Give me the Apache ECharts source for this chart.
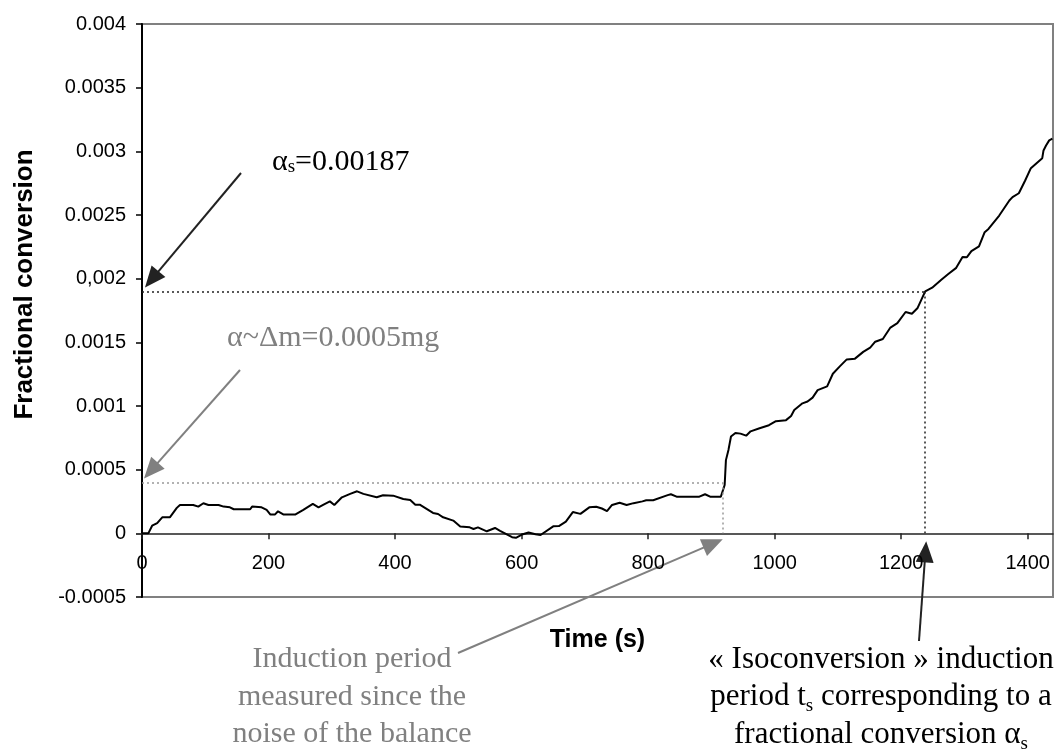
<!DOCTYPE html>
<html>
<head>
<meta charset="utf-8">
<script src="https://cdn.jsdelivr.net/npm/echarts@6/dist/echarts.min.js"></script>
<style>
  html, body { margin: 0; padding: 0; background: #fff; }
  #chart { width: 1064px; height: 751px; }
</style>
</head>
<body>
<div id="chart"></div>
<script>
// time (s) and fractional conversion
const timeS = [
  0, 10, 16, 24, 32, 44, 55, 60, 81, 89, 97, 105, 121, 129, 139, 145, 171, 174, 189, 197,
  203, 210, 215, 224, 242, 255, 270, 279, 287, 297, 304, 316, 329, 340, 350, 371, 381, 397, 413, 424,
  432, 439, 460, 468, 476, 492, 503, 518, 524, 531, 545, 558, 566, 585, 591, 602, 611, 622, 630, 650,
  659, 670, 681, 693, 707, 718, 727, 735, 743, 755, 766, 777, 791, 797, 808, 831, 836, 845, 881, 890,
  898, 915, 918, 921, 923, 927, 931, 938, 946, 955, 962, 975, 991, 1002, 1018, 1026, 1031, 1044, 1052, 1060,
  1068, 1083, 1092, 1103, 1114, 1127, 1140, 1151, 1159, 1171, 1183, 1194, 1207, 1217, 1226, 1238, 1249, 1263, 1274, 1287,
  1297, 1304, 1311, 1323, 1332, 1338, 1355, 1371, 1376, 1386, 1396, 1405, 1414, 1423, 1425, 1429, 1434, 1439
];
const fracConv = [
  0, 0, 0.00006, 0.00008, 0.000126, 0.000126, 0.0002, 0.000223, 0.000223, 0.00021, 0.000236, 0.000223, 0.000223, 0.00021, 0.000204, 0.000189, 0.000189, 0.00021, 0.000204, 0.000184,
  0.000147, 0.000147, 0.000173, 0.000147, 0.000147, 0.000184, 0.000231, 0.000204, 0.000225, 0.000251, 0.000223, 0.000283, 0.00031, 0.00033, 0.00031, 0.000283, 0.000299, 0.000296, 0.00027, 0.000262,
  0.000225, 0.000225, 0.00016, 0.000152, 0.000126, 0.0001, 0.000053, 0.000047, 0.000034, 0.000047, 0.000016, 0.000042, 0.00002, -0.00003, -0.000035, -0.000007, 0.000007, -0.000007, -0.000013, 0.000055,
  0.000057, 0.000092, 0.000167, 0.000153, 0.000204, 0.000209, 0.000195, 0.000175, 0.000223, 0.00024, 0.000223, 0.000237, 0.000251, 0.00026, 0.00026, 0.0003, 0.000307, 0.000288, 0.000288, 0.000307,
  0.000288, 0.000288, 0.000295, 0.00038, 0.000575, 0.000655, 0.00076, 0.000788, 0.000783, 0.000767, 0.000801, 0.000823, 0.000849, 0.000881, 0.000889, 0.000921, 0.000968, 0.001021, 0.001035, 0.001066,
  0.001125, 0.001154, 0.001253, 0.001311, 0.001366, 0.001372, 0.001425, 0.001459, 0.001505, 0.001526, 0.001616, 0.001651, 0.001738, 0.001725, 0.00177, 0.0019, 0.001929, 0.00199, 0.002035, 0.002085,
  0.00217, 0.002169, 0.002216, 0.002253, 0.002365, 0.002391, 0.002496, 0.002614, 0.00264, 0.002671, 0.002771, 0.002868, 0.002907, 0.002946, 0.003007, 0.003046, 0.003086, 0.003099
];

// y tick labels as printed (note the comma one)
const yTickLabels = ['-0.0005', '0', '0.0005', '0.001', '0.0015', '0,002', '0.0025', '0.003', '0.0035', '0.004'];

// reference levels for the dotted guide lines
const alphaLevel = 0.0019;
const tIso = 1238;
const noiseLevel = 0.0004;
const tNoise = 918;

const chart = echarts.init(document.getElementById('chart'));

const dotBlack = { color: '#222', type: [2, 3], width: 1.5 };
const dotGray = { color: '#999', type: [2, 3], width: 1.5 };

const option = {
  animation: false,
  backgroundColor: '#fff',
  grid: {
    left: 142, right: 11, top: 24, bottom: 154,
    show: true, borderColor: '#808080', borderWidth: 2,
    outerBoundsMode: 'none'
  },
  xAxis: {
    type: 'value',
    min: 0, max: 1440, interval: 200,
    name: 'Time (s)',
    nameLocation: 'middle',
    nameGap: 94,
    nameTextStyle: { fontFamily: 'Liberation Sans', fontWeight: 'bold', fontSize: 25, color: '#000' },
    axisLine: { onZero: false, lineStyle: { color: '#222', width: 1.5 } },
    axisTick: { length: 6, lineStyle: { color: '#222', width: 1.5 } },
    axisLabel: {
      margin: 20, fontSize: 20, fontFamily: 'Liberation Sans', color: '#000', showMaxLabel: false,
      formatter: v => String(v)
    },
    splitLine: { show: false }
  },
  yAxis: {
    type: 'value',
    min: -0.0005, max: 0.004, interval: 0.0005,
    name: 'Fractional conversion',
    nameLocation: 'middle',
    nameRotate: 90,
    nameGap: 104,
    nameTextStyle: { fontFamily: 'Liberation Sans', fontWeight: 'bold', fontSize: 26, color: '#000', padding: [0, 0, 0, 52] },
    axisLine: { show: true, onZero: false, lineStyle: { color: '#000', width: 2 } },
    axisTick: { show: true, length: 6, lineStyle: { color: '#000', width: 1.5 } },
    axisLabel: {
      margin: 16, fontSize: 20, fontFamily: 'Liberation Sans', color: '#000',
      formatter: v => yTickLabels[Math.round(v / 0.0005) + 1]
    },
    splitLine: { show: false }
  },
  series: [{
    type: 'line',
    data: timeS.map((t, i) => [t, fracConv[i]]),
    symbol: 'none',
    lineStyle: { color: '#000', width: 2 },
    markLine: {
      silent: true,
      symbol: ['none', 'none'],
      label: { show: false },
      emphasis: { disabled: true },
      data: [
        [{ coord: [0, alphaLevel], lineStyle: dotBlack }, { coord: [tIso, alphaLevel], lineStyle: dotBlack }],
        [{ coord: [tIso, alphaLevel], lineStyle: dotBlack }, { coord: [tIso, 0], lineStyle: dotBlack }],
        [{ coord: [0, noiseLevel], lineStyle: dotGray }, { coord: [tNoise, noiseLevel], lineStyle: dotGray }],
        [{ coord: [tNoise, noiseLevel], lineStyle: dotGray }, { coord: [tNoise, 0], lineStyle: dotGray }]
      ]
    }
  }]
};

chart.setOption(option);

const px = (x, y) => chart.convertToPixel({ gridIndex: 0 }, [x, y]);

// move the x axis (line, ticks, labels, name) up to the zero level
const zeroOffset = px(0, 0)[1] - px(0, -0.0005)[1];
chart.setOption({ xAxis: { offset: zeroOffset } });

// annotations: arrow tips are anchored to data points, tails sit by the text
function arrow(tail, tip, color) {
  const dx = tip[0] - tail[0], dy = tip[1] - tail[1];
  const len = Math.sqrt(dx * dx + dy * dy);
  const ux = dx / len, uy = dy / len;
  const hl = 21, hw = 9;
  const bx = tip[0] - ux * hl, by = tip[1] - uy * hl;
  return [
    { type: 'line', silent: true, shape: { x1: tail[0], y1: tail[1], x2: bx + ux * 2, y2: by + uy * 2 },
      style: { stroke: color, lineWidth: 2 } },
    { type: 'polygon', silent: true,
      shape: { points: [tip, [bx - uy * hw, by + ux * hw], [bx + uy * hw, by - ux * hw]] },
      style: { fill: color } }
  ];
}

const serif = 'Liberation Serif';
const subStyle = { fontFamily: serif, fontSize: 19, lineHeight: 19, verticalAlign: 'bottom' };

const pA = px(0, alphaLevel), pN = px(0, noiseLevel), pJ = px(tNoise, 0), pI = px(tIso, 0);

chart.setOption({
  graphic: [
    ...arrow([241, 173], [pA[0] + 3, pA[1] - 4], '#222'),
    ...arrow([240, 370], [pN[0] + 2, pN[1] - 4], '#808080'),
    ...arrow([458, 653], [pJ[0], pJ[1] + 6], '#808080'),
    ...arrow([919, 641], [pI[0] + 1, pI[1] + 8], '#222'),
    {
      type: 'text', silent: true,
      style: {
        x: 272, y: 162, text: '{a|α}{s|s}{a|=0.00187}',
        textAlign: 'left', textVerticalAlign: 'middle',
        rich: { a: { fontFamily: serif, fontSize: 30, fill: '#000' }, s: Object.assign({ fill: '#000' }, subStyle) }
      }
    },
    {
      type: 'text', silent: true,
      style: {
        x: 227, y: 338, text: 'α~Δm=0.0005mg',
        font: '30px "Liberation Serif"', fill: '#808080',
        textAlign: 'left', textVerticalAlign: 'middle'
      }
    },
    {
      type: 'text', silent: true,
      style: {
        x: 352, y: 697, text: 'Induction period\nmeasured since the\nnoise of the balance',
        font: '30px "Liberation Serif"', fill: '#808080', lineHeight: 37.5,
        textAlign: 'center', textVerticalAlign: 'middle'
      }
    },
    {
      type: 'text', silent: true,
      style: {
        x: 881, y: 697,
        text: '{a|« Isoconversion » induction}\n{a|period t}{s|s}{a| corresponding to a}\n{a|fractional conversion α}{s|s}',
        textAlign: 'center', textVerticalAlign: 'middle',
        rich: {
          a: { fontFamily: serif, fontSize: 31, lineHeight: 37.5, fill: '#000' },
          s: Object.assign({ fill: '#000' }, subStyle)
        }
      }
    }
  ]
});
</script>
</body>
</html>
